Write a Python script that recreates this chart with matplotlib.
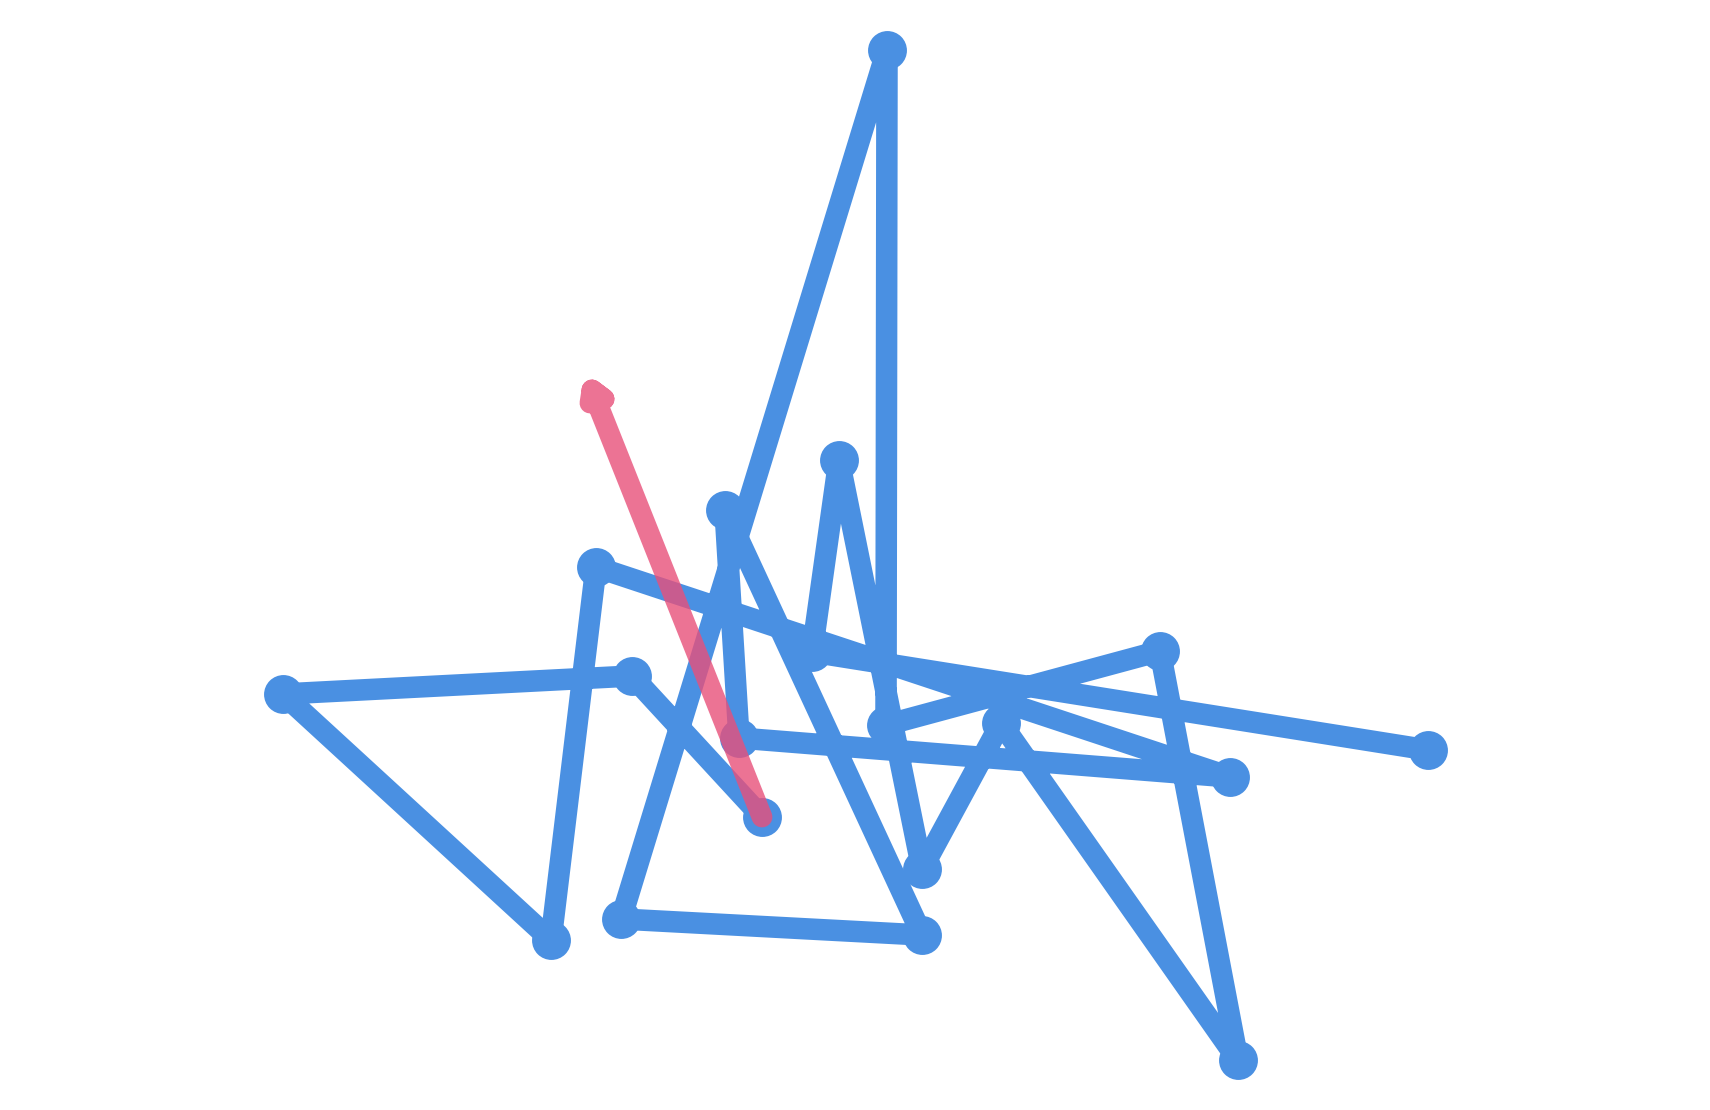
import matplotlib
matplotlib.use('Agg')
import matplotlib.pyplot as plt

# walk positions (pixel-like units, y grows downward), in visiting order
walk_x = [1428, 812, 839, 922, 1001, 1238, 1160, 886, 887, 621,
          922, 725, 739, 1230, 596, 551, 283, 632, 762]
walk_y = [750, 652, 460, 869, 723, 1060, 651, 725, 50, 919,
          935, 510, 738, 777, 567, 940, 694, 676, 817]

# latest step, highlighted
last_x = [762, 592, 604, 592, 590]
last_y = [817, 390, 399, 390, 403]

BLUE = '#4A90E2'
PINK = '#E8507A'

fig = plt.figure(figsize=(17.1, 11.1), dpi=100)
ax = fig.add_axes([0, 0, 1, 1])

ax.plot(walk_x, walk_y, color=BLUE, linewidth=15.5,
        solid_joinstyle='round', solid_capstyle='round',
        marker='o', markersize=28, markeredgewidth=0, zorder=2)

ax.plot(last_x, last_y, color=PINK, alpha=0.8, linewidth=15,
        solid_joinstyle='round', solid_capstyle='round', zorder=3)

ax.set_xlim(0, 1710)
ax.set_ylim(1110, 0)
ax.axis('off')

fig.savefig('out.png', dpi=100, facecolor='white')
